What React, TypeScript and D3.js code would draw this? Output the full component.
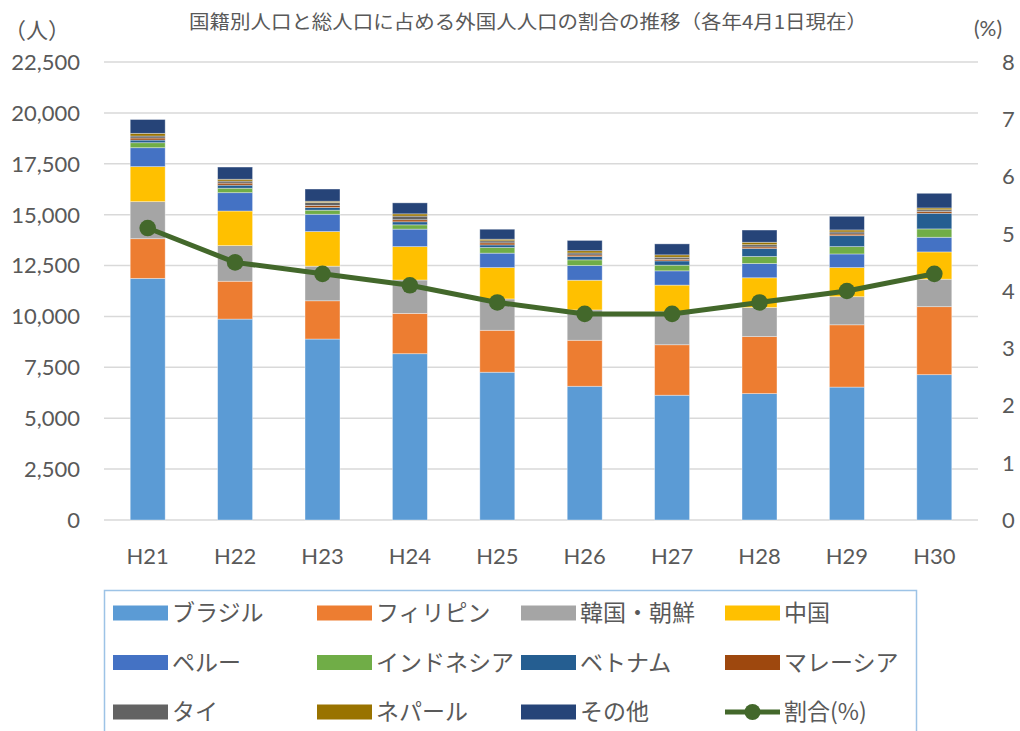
import { useEffect, useRef } from "react";
import * as d3 from "d3";

// 年度
const years = ["H21", "H22", "H23", "H24", "H25", "H26", "H27", "H28", "H29", "H30"];

// 国籍別人口（人）
const brazil = [11870, 9870, 8890, 8170, 7260, 6570, 6130, 6210, 6530, 7140];
const philippines = [1950, 1860, 1880, 1980, 2060, 2260, 2480, 2800, 3060, 3340];
const korea = [1820, 1750, 1700, 1640, 1540, 1490, 1620, 1430, 1380, 1350];
const china = [1720, 1700, 1700, 1640, 1540, 1460, 1310, 1460, 1430, 1340];
const peru = [930, 900, 850, 860, 710, 720, 700, 700, 670, 720];
const indonesia = [245, 220, 200, 210, 275, 280, 280, 345, 360, 410];
const vietnam = [130, 150, 130, 150, 130, 160, 210, 390, 540, 770];
const malaysia = [100, 100, 100, 100, 100, 80, 80, 80, 80, 80];
const thai = [100, 100, 150, 180, 100, 100, 100, 110, 100, 90];
const nepal = [130, 90, 60, 110, 80, 110, 115, 120, 100, 90];
const others = [680, 600, 600, 540, 490, 505, 540, 600, 670, 720];

// 総人口に占める外国人人口の割合（%）
const ratio = [5.1, 4.5, 4.3, 4.1, 3.8, 3.6, 3.6, 3.8, 4.0, 4.3];

const seriesNames = ["ブラジル", "フィリピン", "韓国・朝鮮", "中国", "ペルー", "インドネシア", "ベトナム", "マレーシア", "タイ", "ネパール", "その他"];
const seriesValues = [brazil, philippines, korea, china, peru, indonesia, vietnam, malaysia, thai, nepal, others];
const seriesColors = ["#5B9BD5", "#ED7D31", "#A5A5A5", "#FFC000", "#4472C4", "#70AD47", "#255E91", "#9E480E", "#636363", "#997300", "#264478"];
const lineName = "割合(%)";
const lineColor = "#43682B";

const leftTicks = [0, 2500, 5000, 7500, 10000, 12500, 15000, 17500, 20000, 22500];
const rightTicks = [0, 1, 2, 3, 4, 5, 6, 7, 8];

const title = "国籍別人口と総人口に占める外国人人口の割合の推移（各年4月1日現在）";

const W = 1020, H = 731;
const jp = "'Noto Sans CJK JP', sans-serif";
const num = "Lato, 'Open Sans', sans-serif";
const textColor = "#595959";

const App = () => {
  const ref = useRef<SVGSVGElement>(null);

  useEffect(() => {
    const svg = d3.select(ref.current);
    svg.selectAll("*").remove();

    const plot = { left: 104, right: 978, top: 62, bottom: 520 };

    const x = d3.scaleBand().domain(years).range([plot.left, plot.right]).paddingInner(0.6).paddingOuter(0.3);
    const y = d3.scaleLinear().domain([0, 22500]).range([plot.bottom, plot.top]);
    const y2 = d3.scaleLinear().domain([0, 8]).range([plot.bottom, plot.top]);

    // title
    svg.append("text")
      .attr("x", 189).attr("y", 29)
      .attr("textLength", 678).attr("lengthAdjust", "spacingAndGlyphs")
      .style("font-family", jp).style("font-size", "19px").attr("fill", textColor)
      .text(title);

    svg.append("text").attr("x", 4).attr("y", 38)
      .style("font-family", jp).style("font-size", "22px").attr("fill", textColor).text("（人）");
    svg.append("text").attr("x", 974).attr("y", 36)
      .style("font-family", num).style("font-size", "21px").attr("fill", textColor).text("(%)");

    // gridlines
    svg.append("g").selectAll("line").data(leftTicks).join("line")
      .attr("x1", plot.left).attr("x2", plot.right)
      .attr("y1", d => y(d)).attr("y2", d => y(d))
      .attr("stroke", "#D9D9D9").attr("stroke-width", 1.5);

    // left axis labels
    svg.append("g").selectAll("text").data(leftTicks).join("text")
      .attr("x", 80).attr("y", d => y(d)).attr("dy", "0.36em")
      .attr("text-anchor", "end")
      .style("font-family", num).style("font-size", "22px").attr("fill", textColor)
      .text(d => d3.format(",")(d));

    // right axis labels
    svg.append("g").selectAll("text").data(rightTicks).join("text")
      .attr("x", 1002).attr("y", d => y2(d)).attr("dy", "0.36em")
      .style("font-family", num).style("font-size", "22px").attr("fill", textColor)
      .text(d => String(d));

    // category labels
    svg.append("g").selectAll("text").data(years).join("text")
      .attr("x", d => (x(d) as number) + x.bandwidth() / 2).attr("y", 564)
      .attr("text-anchor", "middle")
      .style("font-family", num).style("font-size", "22px").attr("fill", textColor)
      .text(d => d);

    // stacked bars
    const rows = years.map((yr, i) => {
      const r: any = { year: yr };
      seriesNames.forEach((n, j) => { r[n] = seriesValues[j][i]; });
      return r;
    });
    const stacked = d3.stack<any>().keys(seriesNames)(rows);

    svg.append("g").selectAll("g").data(stacked).join("g")
      .attr("fill", (_, i) => seriesColors[i])
      .selectAll("rect").data(d => d).join("rect")
      .attr("x", d => x(d.data.year) as number)
      .attr("width", x.bandwidth())
      .attr("y", d => y(d[1]))
      .attr("height", d => y(d[0]) - y(d[1]))
      .attr("stroke", "#ffffff").attr("stroke-opacity", 0.45).attr("stroke-width", 0.8);

    // ratio line
    const cx = (i: number) => (x(years[i]) as number) + x.bandwidth() / 2;
    const line = d3.line<number>().x((_, i) => cx(i)).y(d => y2(d));
    svg.append("path").datum(ratio)
      .attr("d", line).attr("fill", "none")
      .attr("stroke", lineColor).attr("stroke-width", 5).attr("stroke-linejoin", "round");
    svg.append("g").selectAll("circle").data(ratio).join("circle")
      .attr("cx", (_, i) => cx(i)).attr("cy", d => y2(d)).attr("r", 8.3)
      .attr("fill", lineColor);

    // legend
    svg.append("rect")
      .attr("x", 104.5).attr("y", 590.5).attr("width", 812).attr("height", 160)
      .attr("fill", "none").attr("stroke", "#9DC3E6").attr("stroke-width", 1.5);

    const items = seriesNames.map((n, i) => ({ name: n, color: seriesColors[i], line: false }))
      .concat([{ name: lineName, color: lineColor, line: true }]);
    const lg = svg.append("g").selectAll("g").data(items).join("g")
      .attr("transform", (_, i) => `translate(${113 + (i % 4) * 204},${613 + Math.floor(i / 4) * 49.5})`);
    lg.filter(d => !d.line).append("rect")
      .attr("x", 0).attr("y", -7.5).attr("width", 55).attr("height", 15)
      .attr("fill", d => d.color);
    const ll = lg.filter(d => d.line);
    ll.append("line").attr("x1", 0).attr("x2", 55).attr("y1", 0).attr("y2", 0)
      .attr("stroke", d => d.color).attr("stroke-width", 5);
    ll.append("circle").attr("cx", 27.5).attr("cy", 0).attr("r", 8).attr("fill", d => d.color);
    lg.append("text")
      .attr("x", 59).attr("y", 0).attr("dy", "0.36em")
      .style("font-family", jp).style("font-size", "23px").attr("fill", textColor)
      .text(d => d.name);
  }, []);

  return (
    <div style={{ position: "fixed", left: 0, top: 0 }}>
      <svg ref={ref} width={W} height={H} style={{ display: "block", background: "#fff" }} />
    </div>
  );
};

export default App;
